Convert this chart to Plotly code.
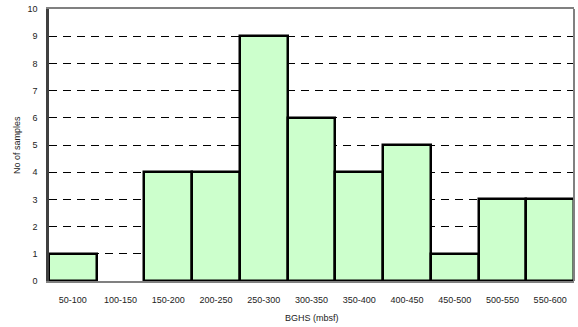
import plotly.graph_objects as go

categories = ["50-100", "100-150", "150-200", "200-250", "250-300", "300-350",
              "350-400", "400-450", "450-500", "500-550", "550-600"]
counts = [1, 0, 4, 4, 9, 6, 4, 5, 1, 3, 3]
y_ticks = list(range(0, 11))

outline_widths = [2.5 if c > 0 else 0 for c in counts]

fig = go.Figure(go.Bar(
    x=categories, y=counts,
    marker=dict(color="#CCFFCC", line=dict(color="black", width=outline_widths)),
    width=1.0, hoverinfo="skip",
))

font = dict(family="Liberation Sans, Arial, sans-serif", size=9, color="#222222")
fig.update_layout(
    width=578, height=327,
    margin=dict(l=49, r=4, t=9, b=46),
    paper_bgcolor="white", plot_bgcolor="white",
    showlegend=False, bargap=0,
    font=font,
    xaxis=dict(
        type="category", showgrid=False, showline=True, mirror=True,
        linecolor="#808080", linewidth=2, ticks="", ticklabelstandoff=9,
        automargin=False, range=[-0.5, 10.5],
    ),
    yaxis=dict(
        range=[0, 10], tickvals=y_ticks, showgrid=True,
        gridcolor="black", griddash="8px,6px", gridwidth=1,
        showline=True, linecolor="#404040", linewidth=2.5,
        ticks="", ticklabelstandoff=7, zeroline=False, automargin=False,
    ),
    shapes=[dict(type="line", xref="paper", yref="paper", x0=1, x1=1, y0=0, y1=1,
                 line=dict(color="#808080", width=2))],
    annotations=[
        dict(text="BGHS (mbsf)", xref="paper", yref="paper", x=0.5, y=-37/272,
             xanchor="center", yanchor="middle", showarrow=False, font=font),
        dict(text="No of samples", xref="paper", yref="paper", x=-32/525, y=0.5,
             xanchor="center", yanchor="middle", textangle=-90, showarrow=False, font=font),
    ],
)
fig.write_html("out.html", config={"displayModeBar": False},
               post_script="document.body.style.margin='0';document.body.style.overflow='hidden';")
